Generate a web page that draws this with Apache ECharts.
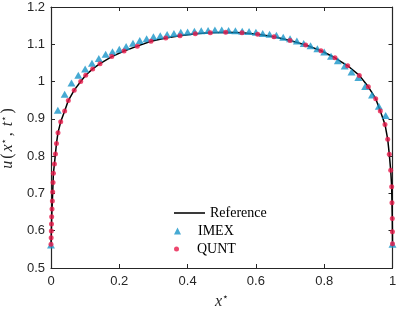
<!DOCTYPE html>
<html><head><meta charset="utf-8">
<script src="https://cdn.jsdelivr.net/npm/echarts@6/dist/echarts.min.js"></script>
<style>html,body{margin:0;padding:0;background:#fff}#c{width:399px;height:310px}</style>
</head><body><div id="c"></div>
<script>
// Reference solution (black line)
const refX = [0, 0.0005, 0.001, 0.0015, 0.002, 0.003, 0.004, 0.005, 0.006, 0.007, 0.010, 0.013, 0.016, 0.0205, 0.0284, 0.040, 0.0507, 0.068, 0.087, 0.1016, 0.122, 0.1435, 0.178, 0.214, 0.2527, 0.2928, 0.336, 0.3777, 0.4225, 0.4665, 0.5116, 0.5593, 0.6053, 0.653, 0.700, 0.7458, 0.7906, 0.8316, 0.8688, 0.9028, 0.9292, 0.9508, 0.9643, 0.978, 0.986, 0.9906, 0.9947, 0.9976, 0.9985, 0.9994, 0.9998, 1.0];
const refY = [0.5635, 0.581, 0.599, 0.618, 0.6375, 0.658, 0.680, 0.704, 0.729, 0.754, 0.779, 0.806, 0.834, 0.863, 0.892, 0.921, 0.949, 0.977, 1.0, 1.017, 1.034, 1.048, 1.067, 1.082, 1.095, 1.108, 1.117, 1.123, 1.128, 1.131, 1.132, 1.131, 1.127, 1.120, 1.110, 1.098, 1.0826, 1.0638, 1.0424, 1.0166, 0.986, 0.954, 0.921, 0.885, 0.845, 0.805, 0.762, 0.718, 0.675, 0.633, 0.597, 0.565];

// IMEX (blue triangles)
const imexX = [0, 0.02, 0.04, 0.06, 0.08, 0.10, 0.12, 0.14, 0.16, 0.18, 0.20, 0.22, 0.24, 0.26, 0.28, 0.30, 0.32, 0.34, 0.36, 0.38, 0.40, 0.42, 0.44, 0.46, 0.48, 0.50, 0.52, 0.54, 0.56, 0.58, 0.60, 0.62, 0.64, 0.66, 0.68, 0.70, 0.72, 0.74, 0.76, 0.78, 0.80, 0.82, 0.84, 0.86, 0.88, 0.90, 0.92, 0.94, 0.96, 0.98, 1.00];
const imexY = [0.562, 0.923, 0.966, 0.996, 1.017, 1.034, 1.049, 1.062, 1.073, 1.080, 1.087, 1.094, 1.103, 1.110, 1.115, 1.120, 1.123, 1.126, 1.129, 1.132, 1.133, 1.135, 1.136, 1.137, 1.138, 1.138, 1.137, 1.136, 1.135, 1.134, 1.132, 1.129, 1.127, 1.124, 1.119, 1.115, 1.109, 1.102, 1.096, 1.088, 1.079, 1.068, 1.056, 1.042, 1.026, 1.011, 0.987, 0.964, 0.934, 0.909, 0.564];

// QUNT (red circles)
const quntX = [0, 0.0005, 0.001, 0.0015, 0.002, 0.003, 0.004, 0.005, 0.006, 0.007, 0.010, 0.013, 0.016, 0.0205, 0.0284, 0.040, 0.0507, 0.068, 0.087, 0.1016, 0.122, 0.1435, 0.178, 0.214, 0.2527, 0.2928, 0.336, 0.3777, 0.4225, 0.4665, 0.5116, 0.5593, 0.6053, 0.653, 0.700, 0.7458, 0.7906, 0.8316, 0.8688, 0.9028, 0.9292, 0.9508, 0.9643, 0.978, 0.986, 0.9906, 0.9947, 0.9976, 0.9985, 0.9994, 0.9998, 1.0];
const quntY = [0.5635, 0.581, 0.599, 0.618, 0.6375, 0.658, 0.680, 0.704, 0.729, 0.754, 0.779, 0.806, 0.834, 0.863, 0.892, 0.921, 0.949, 0.977, 1.0, 1.017, 1.034, 1.048, 1.067, 1.082, 1.095, 1.108, 1.117, 1.123, 1.128, 1.131, 1.132, 1.131, 1.127, 1.120, 1.110, 1.098, 1.0826, 1.0638, 1.0424, 1.0166, 0.986, 0.954, 0.921, 0.885, 0.845, 0.805, 0.762, 0.718, 0.675, 0.633, 0.597, 0.565];

const seriesNames = ['Reference', 'IMEX', 'QUNT'];
const xRange = [0, 1], xStep = 0.2;
const yRange = [0.5, 1.2], yStep = 0.1;

const AX = '#262626';
const BLUE = '#1895c8';
const RED = '#e8194a';
const zip = (xs, ys) => xs.map((x, i) => [x, ys[i]]);

function axisCommon(pos, showLabel) {
  return {
    type: 'value', position: pos,
    axisLine: { show: true, onZero: false, lineStyle: { color: AX, width: 1.2 } },
    axisTick: { show: true, inside: true, length: 4, lineStyle: { color: AX, width: 1 } },
    axisLabel: { show: showLabel, color: AX, fontSize: 13, fontFamily: 'Liberation Sans' },
    splitLine: { show: false }
  };
}

const starStyle = { fontFamily: 'DejaVu Sans', fontSize: 10, color: AX, verticalAlign: 'top', lineHeight: 12 };

const xb = Object.assign(axisCommon('bottom', true), {
  min: xRange[0], max: xRange[1], interval: xStep,
  name: '{i|x}{s|⋆}', nameLocation: 'middle', nameGap: 24,
  nameTextStyle: { rich: {
    i: { fontFamily: 'Liberation Serif', fontStyle: 'italic', fontSize: 16, color: AX, lineHeight: 18 },
    s: starStyle
  } }
});
xb.axisLabel.margin = 7;
const xt = Object.assign(axisCommon('top', false), { min: xRange[0], max: xRange[1], interval: xStep });

const yl = Object.assign(axisCommon('left', true), {
  min: yRange[0], max: yRange[1], interval: yStep,
  name: '{i|u}{p|(}{i|x}{s|⋆}{p|, }{i|t}{s|⋆}{p|)}', nameLocation: 'middle', nameGap: 29, nameRotate: 90,
  nameTextStyle: { rich: {
    i: { fontFamily: 'Liberation Serif', fontStyle: 'italic', fontSize: 16, color: AX, lineHeight: 18 },
    p: { fontFamily: 'Liberation Serif', fontSize: 16, color: AX, lineHeight: 18, padding: [0, 2, 0, 2] },
    s: starStyle
  } }
});
yl.axisLabel.margin = 6;
const yr = Object.assign(axisCommon('right', false), { min: yRange[0], max: yRange[1], interval: yStep });

function legendFor(name, icon, h, top, color) {
  return {
    show: true, orient: 'vertical', left: 174, top: top, padding: 0,
    itemWidth: 31, itemHeight: h, selectedMode: false,
    textStyle: { fontFamily: 'Liberation Serif', fontSize: 14, color: '#000', lineHeight: 14 },
    data: [{ name: name, icon: icon, itemStyle: { color: color, borderWidth: 0 } }]
  };
}

const chart = echarts.init(document.getElementById('c'), null, { renderer: 'canvas' });
chart.setOption({
  animation: false,
  backgroundColor: '#fff',
  grid: { left: 51, right: 6.5, top: 7, bottom: 42, containLabel: false, outerBoundsMode: 'none' },
  xAxis: [xb, xt],
  yAxis: [yl, yr],
  legend: [
    legendFor(seriesNames[0], 'path://M0,0H20V1H0Z', 7, 206, '#000'),
    legendFor(seriesNames[1], 'path://M0,-1L1,1L-1,1Z', 7, 224, BLUE),
    legendFor(seriesNames[2], 'circle', 5, 242, RED)
  ],
  series: [
    { name: seriesNames[0], type: 'line', data: zip(refX, refY), symbol: 'none', color: '#000',
      lineStyle: { color: '#000', width: 1.5 }, xAxisIndex: 0, yAxisIndex: 0, z: 2 },
    { name: seriesNames[1], type: 'scatter', data: zip(imexX, imexY), symbol: 'triangle', symbolSize: [8, 7],
      itemStyle: { color: BLUE }, xAxisIndex: 0, yAxisIndex: 0, z: 3 },
    { name: seriesNames[2], type: 'scatter', data: zip(quntX, quntY), symbol: 'circle', symbolSize: 5,
      itemStyle: { color: RED }, xAxisIndex: 0, yAxisIndex: 0, z: 4 }
  ]
});
</script></body></html>
